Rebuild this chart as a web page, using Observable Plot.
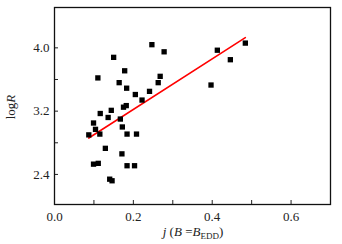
<!DOCTYPE html>
<html><head><meta charset="utf-8">
<script src="https://cdn.jsdelivr.net/npm/d3@7"></script>
<script src="https://cdn.jsdelivr.net/npm/@observablehq/plot@0.6"></script>
<style>body{margin:0;background:#fff}svg{display:block}svg text,svg tspan{font-family:"Liberation Serif","Times New Roman",serif !important;font-variant:normal !important}</style>
</head><body><div id="chart"></div>
<script>
const jValues = [0.247,0.278,0.150,0.178,0.110,0.268,0.164,0.263,0.183,0.241,0.205,0.222,0.144,0.175,0.182,0.116,0.136,0.167,0.099,0.172,0.104,0.087,0.115,0.184,0.208,0.129,0.171,0.099,0.111,0.184,0.203,0.140,0.146,0.413,0.484,0.446,0.397];
const logRValues = [4.04,3.95,3.88,3.71,3.62,3.64,3.56,3.56,3.49,3.45,3.41,3.34,3.21,3.25,3.27,3.17,3.12,3.10,3.05,3.00,2.97,2.90,2.91,2.91,2.91,2.73,2.66,2.53,2.54,2.51,2.51,2.34,2.32,3.97,4.06,3.85,3.53];
const fitJ = [0.087, 0.484];
const fitLogR = [2.86, 4.13];
const xMajorTicks = [0, 0.2, 0.4, 0.6];
const xMinorTicks = [0.1, 0.3, 0.5];
const yMajorTicks = [2.4, 3.2, 4.0];
const yMinorTicks = [2.8, 3.6];

const points = jValues.map((j, i) => ({j, logR: logRValues[i]}));
const fit = fitJ.map((j, i) => ({j, logR: fitLogR[i]}));

const font = "Liberation Serif, serif";
const chart = Plot.plot({
  width: 342, height: 244,
  marginTop: 7, marginRight: 12, marginBottom: 40, marginLeft: 54,
  style: {fontFamily: font, fontSize: "13px", color: "#222", background: "#fff"},
  x: {domain: [0, 0.7]},
  y: {domain: [2.02, 4.51]},
  marks: [
    Plot.axisX({ticks: xMajorTicks, tickSize: 0, tickPadding: 7, tickFormat: d3.format(".1f"), label: null, fontSize: 13, fill: "#222"}),
    Plot.axisX({ticks: xMajorTicks.concat(xMinorTicks), tickSize: -4, text: null, label: null}),
    Plot.axisY({ticks: yMajorTicks, tickSize: 0, tickPadding: 5, tickFormat: d3.format(".1f"), label: null, fontSize: 13, fill: "#222"}),
    Plot.axisY({ticks: yMajorTicks.concat(yMinorTicks), tickSize: -4, text: null, label: null}),
    Plot.frame({stroke: "#111", strokeWidth: 1.3}),
    Plot.line(fit, {x: "j", y: "logR", stroke: "#f00", strokeWidth: 1.6}),
    Plot.dot(points, {x: "j", y: "logR", symbol: "square", r: 3, fill: "#000", stroke: "none"})
  ]
});
const svg = d3.select(chart);
const xt = svg.append("text").attr("x", 193).attr("y", 236).attr("text-anchor", "middle")
  .attr("font-size", 13).attr("fill", "#222");
xt.append("tspan").attr("font-style", "italic").text("j");
xt.append("tspan").text(" (");
xt.append("tspan").attr("font-style", "italic").text("B");
xt.append("tspan").text(" =");
xt.append("tspan").attr("font-style", "italic").text("B");
xt.append("tspan").attr("font-size", 9).attr("dy", 3).text("EDD");
xt.append("tspan").attr("dy", -3).text(")");
const yt = svg.append("text").attr("transform", "translate(15,107) rotate(-90)").attr("text-anchor", "middle")
  .attr("font-size", 13).attr("fill", "#222");
yt.append("tspan").text("log");
yt.append("tspan").attr("font-style", "italic").text("R");
document.getElementById("chart").appendChild(chart);
</script>
</body></html>
